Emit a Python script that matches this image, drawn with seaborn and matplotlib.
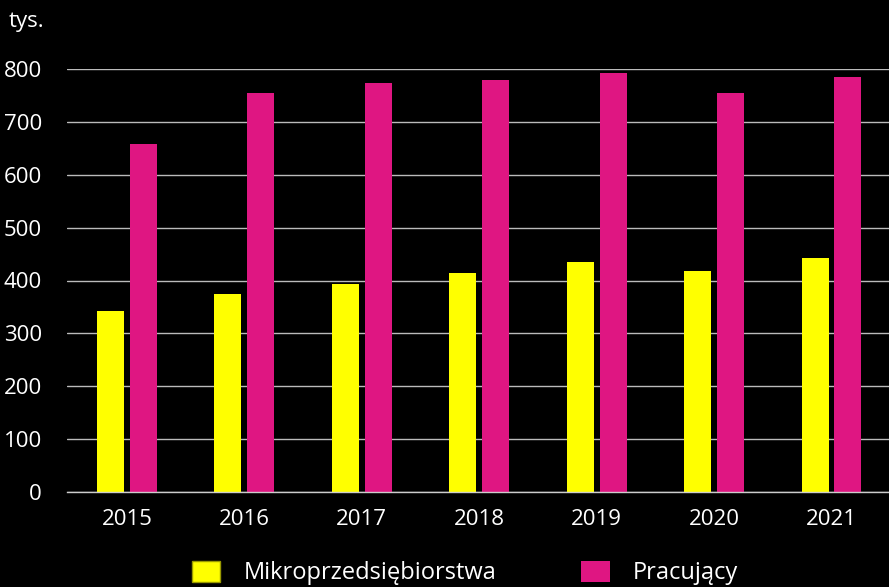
import numpy as np
import pandas as pd
import matplotlib
matplotlib.use("Agg")
import matplotlib.pyplot as plt
import seaborn as sns

years = ["2015", "2016", "2017", "2018", "2019", "2020", "2021"]
mikro = [342, 374, 393, 414, 435, 418, 442]
pracujacy = [658, 754, 773, 779, 792, 754, 784]
series_names = ["Mikroprzedsiębiorstwa", "Pracujący"]

df = pd.DataFrame({
    "rok": years * 2,
    "wartosc": mikro + pracujacy,
    "seria": [series_names[0]] * len(years) + [series_names[1]] * len(years),
})

sns.set_style("dark")
plt.rcParams['font.family'] = ['Open Sans', 'DejaVu Sans']

fig = plt.figure(figsize=(8.89, 5.87), dpi=100, facecolor="black")
ax = fig.add_axes([67 / 889, 1 - 492 / 587, 1 - 67 / 889, (492 - 69) / 587])
ax.set_facecolor("black")

pal = {series_names[0]: "#FFFF00", series_names[1]: "#DF1682"}
sns.barplot(data=df, x="rok", y="wartosc", hue="seria", palette=pal,
            width=0.56, gap=0.18, saturation=1, linewidth=0, ax=ax, legend=True)

ax.set_ylim(0, 800)
ax.set_xlim(-0.51, 6.49)
ax.set_yticks(range(0, 801, 100))
ax.yaxis.grid(True, color="#BBBBBB", linewidth=1)
ax.xaxis.grid(False)
ax.set_axisbelow(True)
for s in ["top", "right", "left"]:
    ax.spines[s].set_visible(False)
ax.spines["bottom"].set_color("#CCCCCC")
ax.spines["bottom"].set_linewidth(1)
ax.tick_params(axis="both", length=0, colors="white", labelsize=16)
ax.tick_params(axis="y", pad=18)
ax.tick_params(axis="x", pad=12)
ax.set_xlabel("")
ax.set_ylabel("")

fig.text(9 / 889, 1 - 22 / 587, "tys.", color="white", fontsize=16, va="center", ha="left")

handles, labels = ax.get_legend_handles_labels()
ax.get_legend().remove()
handles[0].set_edgecolor("#999900")
handles[0].set_linewidth(1)
leg = fig.legend(handles, labels, loc="center", bbox_to_anchor=(465 / 889, 1 - 573 / 587), ncol=2,
                 frameon=False, fontsize=17, labelcolor="white", columnspacing=3.6,
                 handlelength=1.2, handleheight=1.0, handletextpad=1.0)

fig.savefig("out.png", dpi=100, facecolor="black")
